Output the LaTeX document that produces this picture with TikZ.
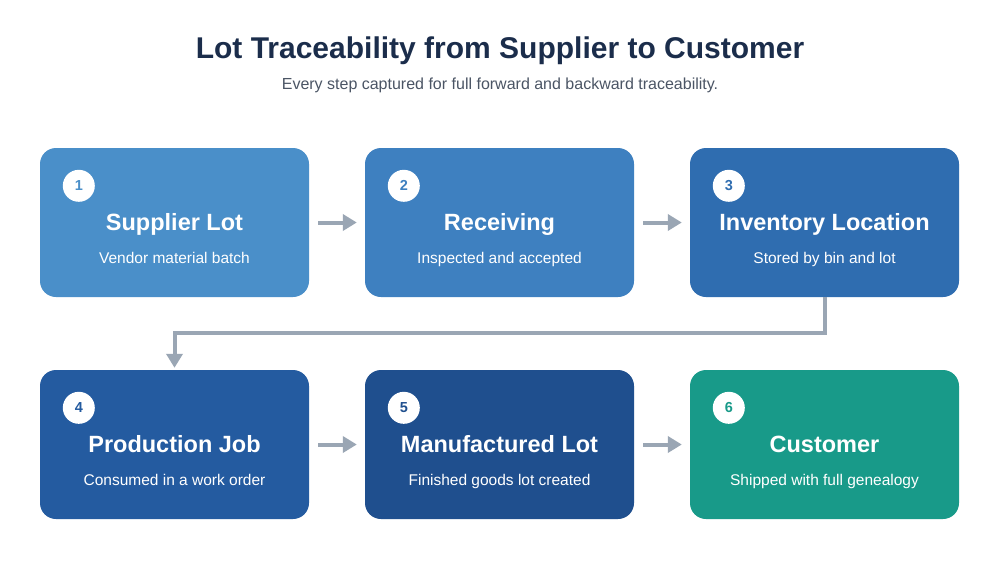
\documentclass[tikz,border=0pt]{standalone}
\usepackage{fontspec}
\setmainfont{Liberation Sans}
\usetikzlibrary{arrows.meta}
\pgfdeclarelayer{background}
\pgfsetlayers{background,main}
\definecolor{titlenavy}{HTML}{1B2D4B}
\definecolor{subgray}{HTML}{4B5565}
\definecolor{arrowgray}{HTML}{9AA6B4}
\definecolor{boxa}{HTML}{4A8FC9}
\definecolor{boxb}{HTML}{3E80C0}
\definecolor{boxc}{HTML}{2F6DB0}
\definecolor{boxd}{HTML}{245BA0}
\definecolor{boxe}{HTML}{1F4F8E}
\definecolor{boxf}{HTML}{189A89}
\tikzset{
  stepbox/.style={rounded corners=16pt, minimum width=269pt, minimum height=149pt, inner sep=0pt},
  softshade/.style={fill=black, opacity=0.03, rounded corners=16pt},
  badge/.style={circle, fill=white, minimum size=32pt, inner sep=0pt, font=\fontsize{14.5}{16}\selectfont\bfseries},
  boxtitle/.style={text=white, inner sep=0pt, anchor=base, font=\fontsize{23.5}{26}\selectfont\bfseries},
  boxsub/.style={text=white, inner sep=0pt, anchor=base, font=\fontsize{15.5}{18}\selectfont},
  flow/.style={line width=4pt, draw=arrowgray, -{Triangle[length=14pt,width=16pt]}}
}
\begin{document}
\begin{tikzpicture}[x=1pt,y=-1pt]
\useasboundingbox[fill=white] (0,0) rectangle (1000,560);
% heading
\node[text=titlenavy, font=\fontsize{30}{34}\selectfont\bfseries] (title) at (500,51) {Lot Traceability from Supplier to Customer};
\node[text=subgray, font=\fontsize{16}{19}\selectfont] (subtitle) at (500,85) {Every step captured for full forward and backward traceability.};
% steps
\foreach \i/\x/\y/\col/\head/\desc in {
    1/174.5/222.5/boxa/Supplier Lot/Vendor material batch,
    2/499.5/222.5/boxb/Receiving/Inspected and accepted,
    3/824.5/222.5/boxc/Inventory Location/Stored by bin and lot,
    4/174.5/444.5/boxd/Production Job/Consumed in a work order,
    5/499.5/444.5/boxe/Manufactured Lot/Finished goods lot created,
    6/824.5/444.5/boxf/Customer/Shipped with full genealogy}
{
  \node[stepbox, fill=\col] (s\i) at (\x,\y) {};
  \begin{pgfonlayer}{background}
    \foreach \k in {1,...,8}
      \fill[softshade] ([xshift=-\k*0.7pt, yshift=-4pt-\k*1.1pt]s\i.south west) rectangle ([xshift=\k*0.7pt, yshift=-4pt+\k*0.5pt]s\i.north east);
  \end{pgfonlayer}
  \node[badge, text=\col] (b\i) at ([xshift=39pt,yshift=-38pt]s\i.north west) {\i};
  \node[boxtitle] (t\i) at ([yshift=-7.5pt]s\i.center) {\head};
  \node[boxsub] (d\i) at ([yshift=-40.5pt]s\i.center) {\desc};
}
% connectors
\draw[flow, shorten <=9pt, shorten >=8pt] (s1) -- (s2);
\draw[flow, shorten <=9pt, shorten >=8pt] (s2) -- (s3);
\draw[flow, shorten >=2pt] (s3.south) -- ++(0,36) -| (s4.north);
\draw[flow, shorten <=9pt, shorten >=8pt] (s4) -- (s5);
\draw[flow, shorten <=9pt, shorten >=8pt] (s5) -- (s6);
\end{tikzpicture}
\end{document}
